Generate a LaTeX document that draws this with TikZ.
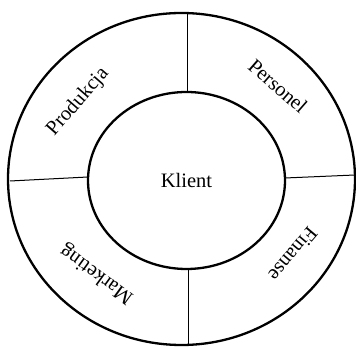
\documentclass[tikz,border=0pt]{standalone}
\usepackage{fontspec}
\setmainfont{Liberation Serif}
\usetikzlibrary{shapes.geometric}
\begin{document}
\begin{tikzpicture}[x=1pt,y=1pt,
  ring/.style={draw, ellipse, line width=2.3pt, inner sep=0pt, outer sep=0pt},
  divider/.style={line width=1pt},
  lbl/.style={font=\fontsize{20.5}{22}\selectfont, inner sep=0pt}]
\useasboundingbox (0,0) rectangle (356,347);
\node[ring, minimum width=347, minimum height=332] (outer) at (181.5,168) {};
\node[ring, minimum width=197, minimum height=177, lbl] (inner) at (186.5,166.5) {Klient};
\coordinate (t1) at (187,255); \coordinate (t2) at (187,334);
\coordinate (b1) at (188,78);  \coordinate (b2) at (188,2);
\coordinate (l1) at (10,166);  \coordinate (l2) at (88,170);
\coordinate (r1) at (285,169); \coordinate (r2) at (355,172);
\draw[divider] (t1) -- (t2);
\draw[divider] (b1) -- (b2);
\draw[divider] (l1) -- (l2);
\draw[divider] (r1) -- (r2);
\node[lbl, rotate=49] (prod) at (78,245) {Produkcja};
\node[lbl, rotate=-41] (pers) at (278,261) {Personel};
\node[lbl, rotate=230] (fin) at (293,93) {Finanse};
\node[lbl, rotate=144] (mark) at (97,73) {Marketing};
\end{tikzpicture}
\end{document}
